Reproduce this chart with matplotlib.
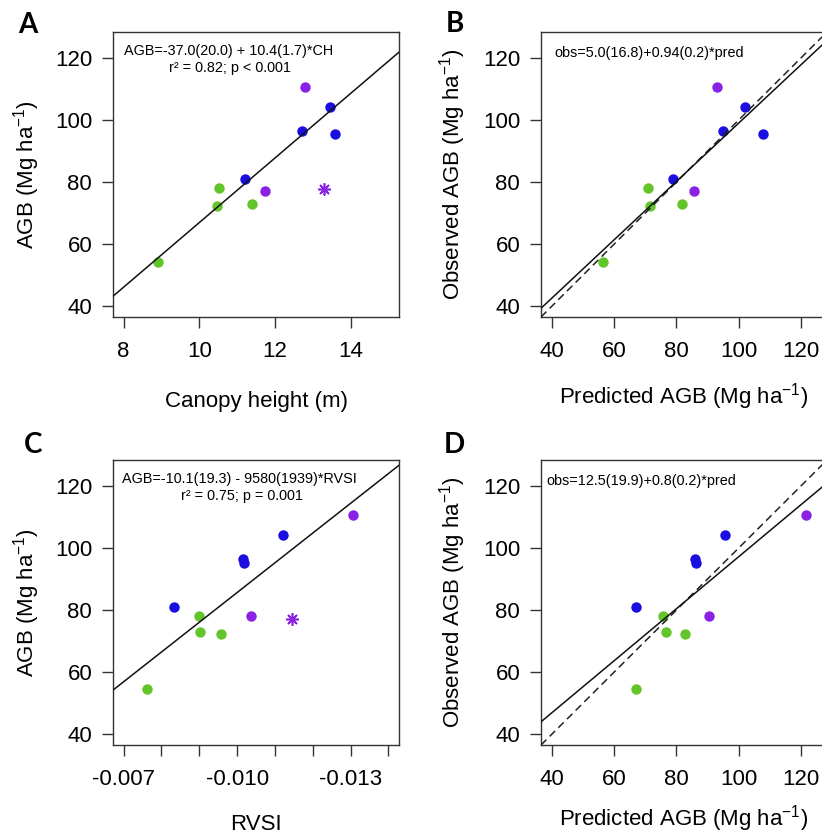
import numpy as np
import matplotlib
matplotlib.use('Agg')
import matplotlib.pyplot as plt

plt.rcParams['font.family'] = ['Liberation Sans', 'DejaVu Sans']
plt.rcParams['mathtext.fontset'] = 'custom'
plt.rcParams['mathtext.rm'] = 'Liberation Sans'
plt.rcParams['mathtext.default'] = 'regular'

# colours per point group
groups = ['green', 'green', 'green', 'green', 'blue', 'blue', 'blue', 'blue', 'purple', 'purple']
col = {'green': '#62c62a', 'blue': '#1a0fe0', 'purple': '#8a22e6'}

# panel A: canopy height vs AGB
ch = [8.92, 10.52, 10.48, 11.39, 11.21, 12.72, 13.45, 13.60, 12.79, 11.74]
agb_a = [54.3, 78.2, 72.4, 72.9, 81.0, 96.6, 104.2, 95.4, 110.6, 77.3]
star_a = (13.30, 77.8)
fit_a = (-37.0, 10.4)

# panel B: predicted (CH model) vs observed
pred_b = [56.5, 70.9, 71.5, 82.0, 79.1, 95.0, 102.0, 107.7, 93.0, 85.7]
obs_b = [54.3, 78.1, 72.4, 72.9, 81.0, 96.5, 104.3, 95.4, 110.6, 77.3]
fit_b = (5.0, 0.94)

# panel C: RVSI vs AGB
rvsi = [-0.00763, -0.00900, -0.00901, -0.00957, -0.00834, -0.01015, -0.01017, -0.01121, -0.01307, -0.01038]
agb_c = [54.5, 78.3, 73.1, 72.4, 81.0, 96.6, 95.2, 104.1, 110.6, 78.1]
star_c = (-0.01145, 77.3)
fit_c = (-10.1, -9580)

# panel D: predicted (RVSI model) vs observed
pred_d = [67.2, 75.7, 76.8, 82.7, 67.1, 86.0, 86.5, 95.8, 121.6, 90.5]
obs_d = [54.5, 78.3, 73.1, 72.4, 81.0, 96.6, 95.2, 104.1, 110.6, 78.1]
fit_d = (13.4, 0.838)

eq_a = ['AGB=-37.0(20.0) + 10.4(1.7)*CH', 'r\u00b2 = 0.82; p < 0.001']
eq_b = 'obs=5.0(16.8)+0.94(0.2)*pred'
eq_c = ['AGB=-10.1(19.3) - 9580(1939)*RVSI', 'r\u00b2 = 0.75; p = 0.001']
eq_d = 'obs=12.5(19.9)+0.8(0.2)*pred'

W, H = 822, 836
fig = plt.figure(figsize=(W/100, H/100), dpi=100)

def make_ax(l, t, w=286, h=285):
    return fig.add_axes([l/W, 1 - (t+h)/H, w/W, h/H])

axA = make_ax(113, 32)
axB = make_ax(541, 32)
axC = make_ax(113, 460)
axD = make_ax(541, 460)

def pad(lo, hi):
    r = hi - lo
    return lo - 0.04*r, hi + 0.04*r

def style(ax):
    for s in ax.spines.values():
        s.set_color('#333333')
        s.set_linewidth(1.0)
    ax.tick_params(direction='out', length=8, width=1.0, labelsize=16, pad=7,
                   color='#333333')
    ax.tick_params(axis='x', pad=9)

def scatter(ax, x, y):
    for xi, yi, g in zip(x, y, groups):
        ax.plot(xi, yi, 'o', ms=7.5, color=col[g], mec='none', zorder=2)

ylab = 'AGB (Mg ha$^{-1}$)'
ylab_obs = 'Observed AGB (Mg ha$^{-1}$)'
xlab_pred = 'Predicted AGB (Mg ha$^{-1}$)'
fs_eq = 10.4

# ---- A
ax = axA
scatter(ax, ch, agb_a)
ax.plot(*star_a, marker=(8, 2, 0), ms=9, color=col['purple'], mew=1.2, ls='none')
xl = pad(8, 15)
xx = np.array(xl)
ax.plot(xx, fit_a[0] + fit_a[1]*xx, color='#111111', lw=1.1, zorder=3)
ax.set_xlim(xl)
ax.set_ylim(pad(40, 125))
ax.set_xticks([8, 10, 12, 14])
ax.set_yticks([40, 60, 80, 100, 120])
ax.text(0.404, 0.934, eq_a[0], transform=ax.transAxes, ha='center', va='center', fontsize=fs_eq)
ax.text(0.410, 0.874, eq_a[1], transform=ax.transAxes, ha='center', va='center', fontsize=fs_eq)
style(ax)

# ---- B
ax = axB
scatter(ax, pred_b, obs_b)
xl = pad(40, 125)
xx = np.array(xl)
ax.plot(xx, xx, color='#222222', lw=1.1, ls=(0, (5, 3)), zorder=3)
ax.plot(xx, fit_b[0] + fit_b[1]*xx, color='#111111', lw=1.1, zorder=3)
ax.set_xlim(xl)
ax.set_ylim(pad(40, 125))
ax.set_xticks([40, 60, 80, 100, 120])
ax.set_yticks([40, 60, 80, 100, 120])
ax.text(0.046, 0.925, eq_b, transform=ax.transAxes, ha='left', va='center', fontsize=fs_eq)
style(ax)

# ---- C
ax = axC
scatter(ax, rvsi, agb_c)
ax.plot(*star_c, marker=(8, 2, 0), ms=9, color=col['purple'], mew=1.2, ls='none')
xl = pad(-0.007, -0.014)
xx = np.array(xl)
ax.plot(xx, fit_c[0] + fit_c[1]*xx, color='#111111', lw=1.1, zorder=3)
ax.set_xlim(xl)
ax.set_ylim(pad(40, 125))
ticks = np.arange(-0.007, -0.0145, -0.001)
ax.set_xticks(ticks)
ax.set_xticklabels(['-0.007', '', '', '-0.010', '', '', '-0.013', ''])
ax.set_yticks([40, 60, 80, 100, 120])
ax.text(0.443, 0.932, eq_c[0], transform=ax.transAxes, ha='center', va='center', fontsize=fs_eq)
ax.text(0.450, 0.874, eq_c[1], transform=ax.transAxes, ha='center', va='center', fontsize=fs_eq)
style(ax)

# ---- D
ax = axD
scatter(ax, pred_d, obs_d)
xl = pad(40, 125)
xx = np.array(xl)
ax.plot(xx, xx, color='#222222', lw=1.1, ls=(0, (5, 3)), zorder=3)
ax.plot(xx, fit_d[0] + fit_d[1]*xx, color='#111111', lw=1.1, zorder=3)
ax.set_xlim(xl)
ax.set_ylim(pad(40, 125))
ax.set_xticks([40, 60, 80, 100, 120])
ax.set_yticks([40, 60, 80, 100, 120])
ax.text(0.018, 0.928, eq_d, transform=ax.transAxes, ha='left', va='center', fontsize=fs_eq)
style(ax)

# axis labels
def xlabel(ax, s, y_px):
    ax.text(0.5, -y_px/285, s, transform=ax.transAxes, ha='center', va='center', fontsize=16)

def ylabel(ax, s, x_px):
    ax.text(-x_px/286, 0.5, s, transform=ax.transAxes, ha='center', va='center',
            rotation=90, fontsize=16)

xlabel(axA, 'Canopy height (m)', 84)
xlabel(axB, xlab_pred, 80)
xlabel(axC, 'RVSI', 80)
xlabel(axD, xlab_pred, 74)
ylabel(axA, ylab, 86)
ylabel(axB, ylab_obs, 88)
ylabel(axC, ylab, 86)
ylabel(axD, ylab_obs, 88)

# panel letters
for s, x, y in [('A', 28, 25), ('B', 455, 24), ('C', 33, 445), ('D', 454, 445)]:
    fig.text(x/W, 1 - y/H, s, ha='center', va='center', fontsize=20,
             fontweight='bold', family=['Lato', 'DejaVu Sans'])

plt.savefig('out.png', dpi=100)
